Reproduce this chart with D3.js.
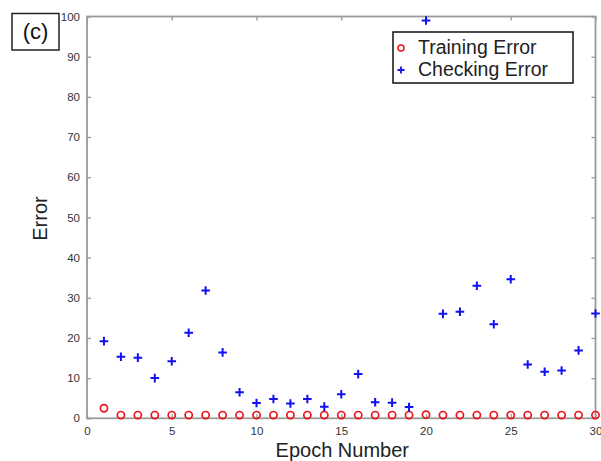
<!DOCTYPE html>
<html>
<head>
<meta charset="utf-8">
<script src="https://cdn.jsdelivr.net/npm/d3@7/dist/d3.min.js"></script>
<style>
  html, body { margin: 0; padding: 0; background: #fff; }
  svg { display: block; font-family: "Liberation Sans", Arial, sans-serif; }
</style>
</head>
<body>
<svg id="chart" width="601" height="461"></svg>
<script>
// Epochs 1..30
const epochs = d3.range(1, 31);

// Training error per epoch
const trainingError = [2.5, 0.8, 0.8, 0.8, 0.8, 0.8, 0.8, 0.8, 0.8, 0.8,
                       0.8, 0.8, 0.8, 0.8, 0.8, 0.8, 0.8, 0.8, 0.8, 0.9,
                       0.8, 0.8, 0.8, 0.8, 0.8, 0.8, 0.8, 0.8, 0.8, 0.8];

// Checking error per epoch
const checkingError = [19.2, 15.3, 15.1, 10.0, 14.2, 21.3, 31.8, 16.4, 6.5, 3.8,
                       4.8, 3.7, 4.8, 2.9, 6.0, 11.0, 4.0, 3.9, 2.8, 99.0,
                       26.0, 26.5, 33.0, 23.4, 34.6, 13.4, 11.6, 11.9, 16.9, 26.1];

const xTicks = [0, 5, 10, 15, 20, 25, 30];
const yTicks = d3.range(0, 101, 10);

const legendLabels = ["Training Error", "Checking Error"];
const panelLabel = "(c)";
const xTitle = "Epoch Number";
const yTitle = "Error";

const svg = d3.select("#chart");
const plotLeft = 87, plotRight = 595.5, plotTop = 16.5, plotBottom = 418.3;

const x = d3.scaleLinear().domain([0, 30]).range([plotLeft, plotRight]);
const y = d3.scaleLinear().domain([0, 100]).range([plotBottom, plotTop]);

const axisColor = "#9a9a9a";
const labelColor = "#333";

// Box frame
svg.append("rect")
  .attr("x", plotLeft).attr("y", plotTop)
  .attr("width", plotRight - plotLeft).attr("height", plotBottom - plotTop)
  .attr("fill", "none").attr("stroke", axisColor).attr("stroke-width", 1.8);

// Axes with inward ticks
function styleAxis(g) {
  g.select(".domain").remove();
  g.selectAll(".tick line").attr("stroke", axisColor).attr("stroke-width", 1.3);
  g.selectAll(".tick text").attr("fill", labelColor)
    .style("font-size", "11.5px").style("font-family", "'Liberation Sans', Arial, sans-serif");
}

svg.append("g").attr("transform", `translate(0,${plotBottom})`)
  .call(d3.axisBottom(x).tickValues(xTicks).tickSize(-4).tickPadding(9).tickFormat(d3.format("d")))
  .call(styleAxis);

svg.append("g").attr("transform", `translate(0,${plotTop})`)
  .call(d3.axisTop(x).tickValues(xTicks).tickSize(-4).tickFormat(""))
  .call(styleAxis);

svg.append("g").attr("transform", `translate(${plotLeft},0)`)
  .call(d3.axisLeft(y).tickValues(yTicks).tickSize(-4).tickPadding(7).tickFormat(d3.format("d")))
  .call(styleAxis);

svg.append("g").attr("transform", `translate(${plotRight},0)`)
  .call(d3.axisRight(y).tickValues(yTicks).tickSize(-4).tickFormat(""))
  .call(styleAxis);

// Training error: red circles
svg.append("g").selectAll("circle")
  .data(epochs.map((e, i) => [e, trainingError[i]]))
  .join("circle")
  .attr("cx", d => x(d[0])).attr("cy", d => y(d[1]))
  .attr("r", 3.6)
  .attr("fill", "none").attr("stroke", "#e8141c").attr("stroke-width", 1.7);

// Checking error: blue plus markers
const plus = (s) => `M${-s},0H${s}M0,${-s}V${s}`;
svg.append("g").selectAll("path")
  .data(epochs.map((e, i) => [e, checkingError[i]]))
  .join("path")
  .attr("transform", d => `translate(${x(d[0])},${y(d[1])})`)
  .attr("d", plus(4.3))
  .attr("fill", "none").attr("stroke", "#1010f0").attr("stroke-width", 2);

// Axis titles
svg.append("text")
  .attr("x", (x(0) + x(30)) / 2 + 1).attr("y", 457)
  .attr("text-anchor", "middle")
  .attr("fill", "#222").style("font-size", "20px")
  .text(xTitle);

svg.append("text")
  .attr("transform", `translate(47,218.5) rotate(-90)`)
  .attr("text-anchor", "middle")
  .attr("fill", "#222").style("font-size", "20px")
  .text(yTitle);

// Legend
const lg = svg.append("g");
lg.append("rect")
  .attr("x", 393).attr("y", 32).attr("width", 180).attr("height", 51)
  .attr("fill", "#fff").attr("stroke", "#111").attr("stroke-width", 1.5);
lg.append("circle")
  .attr("cx", 401).attr("cy", 48).attr("r", 3)
  .attr("fill", "none").attr("stroke", "#e8141c").attr("stroke-width", 1.5);
lg.append("path")
  .attr("transform", "translate(401,70)")
  .attr("d", plus(3.5))
  .attr("fill", "none").attr("stroke", "#1010f0").attr("stroke-width", 1.8);
lg.selectAll("text").data(legendLabels).join("text")
  .attr("x", 418).attr("y", (d, i) => 53.5 + i * 22)
  .attr("fill", "#222").style("font-size", "19.5px")
  .text(d => d);

// Panel label
svg.append("rect")
  .attr("x", 12).attr("y", 13.5).attr("width", 47).attr("height", 36.5)
  .attr("fill", "#fff").attr("stroke", "#222").attr("stroke-width", 1.5);
svg.append("text")
  .attr("x", 35.5).attr("y", 39)
  .attr("text-anchor", "middle")
  .attr("fill", "#111").style("font-size", "22px")
  .text(panelLabel);
</script>
</body>
</html>
